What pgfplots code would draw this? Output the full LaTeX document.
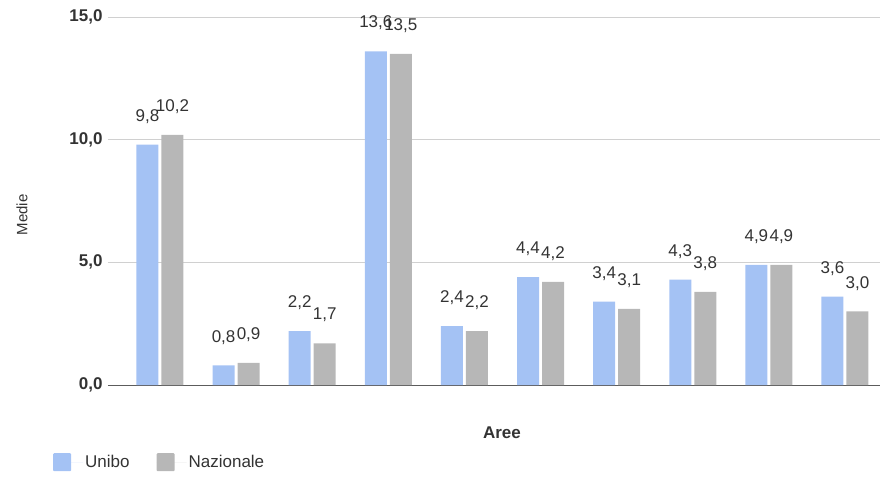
\documentclass[border=0pt]{standalone}
\usepackage{pgfplots}
\pgfplotsset{compat=1.18}
\usepackage{fontspec}
\setmainfont{Liberation Sans}
\definecolor{unibo}{HTML}{A4C2F4}
\definecolor{naz}{HTML}{B7B7B7}
\definecolor{txt}{HTML}{333333}
\definecolor{grid}{HTML}{D0D0D0}
\begin{document}
\begin{tikzpicture}
\begin{axis}[
  scale only axis,
  width=772pt, height=368pt,
  ybar, bar width=22pt,
  xmin=-0.683, xmax=9.46,
  ymin=0, ymax=15,
  ytick={0,5,10,15},
  xtick=\empty,
  axis x line*=bottom,
  axis y line*=left,
  y axis line style={draw=none},
  x axis line style={draw=txt!80, line width=0.8pt, -},
  ymajorgrids,
  grid style={draw=grid, line width=0.6pt},
  major tick length=0pt,
  yticklabel style={font=\fontsize{17}{19}\selectfont\bfseries, text=txt, xshift=-2pt, /pgf/number format/.cd, use comma, fixed, fixed zerofill, precision=1, assume math mode=true},
  scaled y ticks=false,
  ylabel={Medie},
  ylabel style={font=\fontsize{15}{17}\selectfont, text=txt, at={(axis description cs:0,0.5)}, anchor=center, xshift=-14pt, yshift=86pt},
  xlabel={Aree},
  xlabel style={font=\fontsize{17}{19}\selectfont\bfseries, text=txt, at={(axis description cs:0.5,0)}, anchor=center, yshift=-48pt, xshift=8pt},
  nodes near coords,
  nodes near coords style={font=\fontsize{17}{19}\selectfont, text=txt, anchor=south, inner sep=0pt, yshift=21pt, /pgf/number format/.cd, use comma, fixed, fixed zerofill, precision=1, assume math mode=true},
  legend style={at={(axis description cs:0,0)}, anchor=north west, xshift=-58pt, yshift=-66pt, draw=none, fill=none, font=\fontsize{17}{19}\selectfont, text=txt, legend columns=2, /tikz/every even column/.append style={column sep=25pt}},
  legend image code/.code={\fill[#1, rounded corners=1pt] (0pt,-9pt) rectangle (18pt,9pt); \path (0pt,0pt) -- (30pt,0pt);},
  clip=false,
]
\addplot[fill=unibo, draw=none, bar shift=-12.5pt] coordinates {
 (0,9.8) (1,0.8) (2,2.2) (3,13.6) (4,2.4) (5,4.4) (6,3.4) (7,4.3) (8,4.9) (9,3.6)};
\addlegendentry{Unibo}
\addplot[fill=naz, draw=none, bar shift=12.5pt] coordinates {
 (0,10.2) (1,0.9) (2,1.7) (3,13.5) (4,2.2) (5,4.2) (6,3.1) (7,3.8) (8,4.9) (9,3.0)};
\addlegendentry{Nazionale}
\end{axis}
\pgfresetboundingbox
\path[use as bounding box] (-108pt,-92pt) rectangle (774pt,385pt);
\end{tikzpicture}
\end{document}
